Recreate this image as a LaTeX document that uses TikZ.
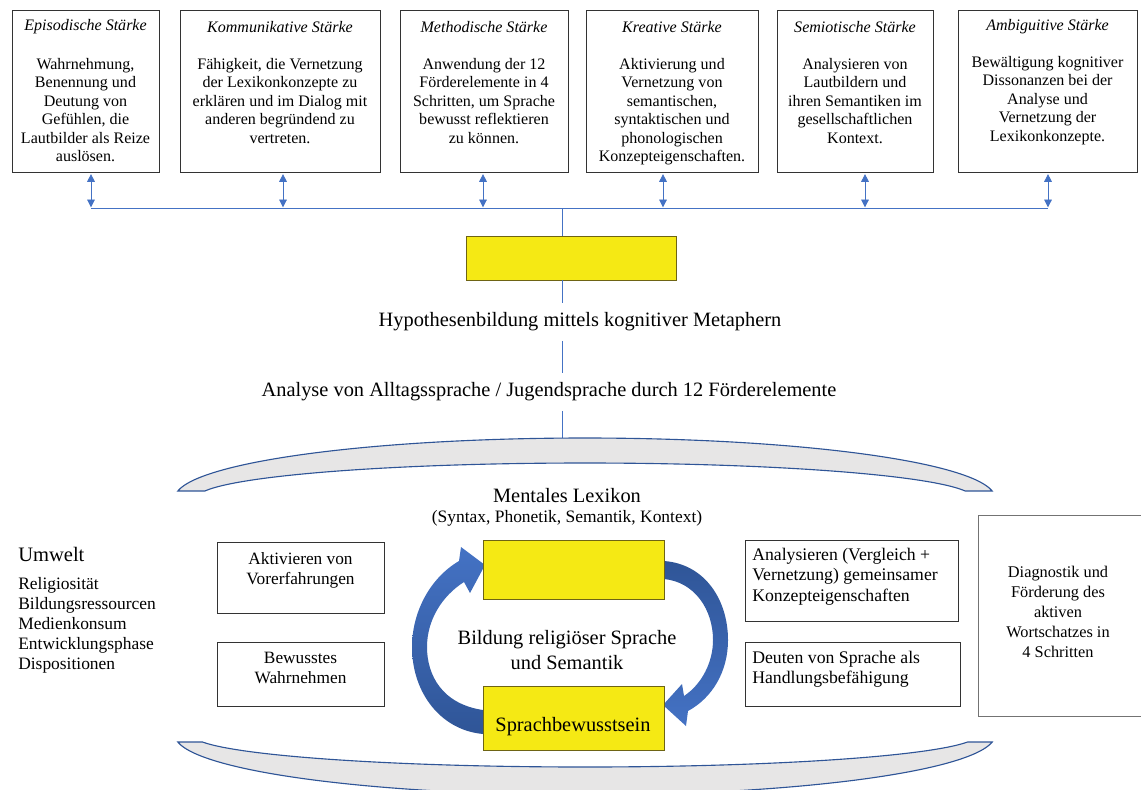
\documentclass[tikz,border=0pt]{standalone}
\usepackage{fontspec}
\setmainfont{Liberation Serif}
\usetikzlibrary{arrows.meta, fit, positioning}

\definecolor{linkblue}{RGB}{68,114,196}
\definecolor{darkblue}{RGB}{47,85,151}
\definecolor{bandgray}{RGB}{231,230,230}
\definecolor{boxyellow}{RGB}{245,233,20}
\definecolor{yellowline}{RGB}{110,100,20}

\begin{document}
\begin{tikzpicture}[x=0.025cm, y=-0.025cm,
    top box/.style={draw=black!80, line width=0.6pt, inner sep=0pt},
    top title/.style={font=\fontsize{11.4}{13.2}\selectfont\itshape, inner sep=0pt},
    top text/.style={font=\fontsize{11.4}{13.15}\selectfont, align=center, inner sep=0pt, anchor=north},
    mid box/.style={draw=black!80, line width=0.6pt, inner sep=0pt},
    mid text/.style={font=\fontsize{12.3}{14.2}\selectfont, inner sep=0pt, anchor=north},
    side text/.style={font=\fontsize{12.6}{14.5}\selectfont, inner sep=0pt, align=left, anchor=north west},
    yellow box/.style={draw=yellowline, line width=0.6pt, fill=boxyellow, inner sep=0pt},
    big text/.style={font=\fontsize{14.5}{17.8}\selectfont, inner sep=0pt},
    link/.style={draw=linkblue, line width=0.6pt},
    double arrow/.style={link, {Triangle[width=5.5pt,length=5.5pt]}-{Triangle[width=5.5pt,length=5.5pt]}, shorten <=1.2pt, shorten >=0.5pt},
    band/.style={draw=darkblue, line width=0.8pt, fill=bandgray}]
\useasboundingbox (0,0) rectangle (1141,789);
\clip (0,0) rectangle (1141,789);

% top row
\node[top box, fit={(12,10) (159,172)}] (episod) {};
\node[top box, fit={(180,10) (380,172)}] (kommun) {};
\node[top box, fit={(400,10) (568,172)}] (method) {};
\node[top box, fit={(586,10) (758,172)}] (kreativ) {};
\node[top box, fit={(777,10) (933,172)}] (semio) {};
\node[top box, fit={(958,10) (1137,172)}] (ambig) {};

\node[top title] (episod-t) at (episod.north |- 0,27) {Episodische Stärke};
\node[top title] (kommun-t) at (kommun.north |- 0,27) {Kommunikative Stärke};
\node[top title] (method-t) at (method.north |- 0,27) {Methodische Stärke};
\node[top title] (kreativ-t) at (kreativ.north |- 0,27) {Kreative Stärke};
\node[top title] (semio-t) at (semio.north |- 0,27) {Semiotische Stärke};
\node[top title] (ambig-t) at (ambig.north |- 0,27) {Ambiguitive Stärke};

\node[top text] (episod-b) at (episod.north |- 0,58) {Wahrnehmung,\\Benennung und\\Deutung von\\Gefühlen, die\\Lautbilder als Reize\\auslösen.};
\node[top text] (kommun-b) at (kommun.north |- 0,58) {Fähigkeit, die Vernetzung\\der Lexikonkonzepte zu\\erklären und im Dialog mit\\anderen begründend zu\\vertreten.};
\node[top text] (method-b) at (method.north |- 0,58) {Anwendung der 12\\Förderelemente in 4\\Schritten, um Sprache\\bewusst reflektieren\\zu können.};
\node[top text] (kreativ-b) at (kreativ.north |- 0,58) {Aktivierung und\\Vernetzung von\\semantischen,\\syntaktischen und\\phonologischen\\Konzepteigenschaften.};
\node[top text] (semio-b) at (semio.north |- 0,58) {Analysieren von\\Lautbildern und\\ihren Semantiken im\\gesellschaftlichen\\Kontext.};
\node[top text] (ambig-b) at (ambig.north |- 0,56) {Bewältigung kognitiver\\Dissonanzen bei der\\Analyse und\\Vernetzung der\\Lexikonkonzepte.};

% bus with double arrows
\coordinate (a1) at (91,208);
\coordinate (a2) at (283,208);
\coordinate (a3) at (483,208);
\coordinate (a4) at (663,208);
\coordinate (a5) at (865,208);
\coordinate (a6) at (1048,208);
\coordinate (stem) at (562,208);
\draw[link] (a1) -- (a6);
\draw[double arrow] (a1 |- episod.south) -- (a1);
\draw[double arrow] (a2 |- kommun.south) -- (a2);
\draw[double arrow] (a3 |- method.south) -- (a3);
\draw[double arrow] (a4 |- kreativ.south) -- (a4);
\draw[double arrow] (a5 |- semio.south) -- (a5);
\draw[double arrow] (a6 |- ambig.south) -- (a6);

% stem down to the lexicon
\node[yellow box, fit={(466,236) (676,280)}] (idee) {};
\node[big text, inner ysep=6.6pt] (hypo) at (580,322) {Hypothesenbildung mittels kognitiver Metaphern};
\node[big text, inner ysep=6.6pt] (analyse) at (549,392) {Analyse von Alltagssprache / Jugendsprache durch 12 Förderelemente};
\coordinate (archtop) at (562,438);
\draw[link] (stem) -- (stem |- idee.north);
\draw[link] (stem |- idee.south) -- (stem |- hypo.north);
\draw[link] (stem |- hypo.south) -- (stem |- analyse.north);
\draw[link] (stem |- analyse.south) -- (archtop);

% upper and lower bands
\draw[band] plot[domain=173.3:6.7, smooth, samples=60, variable=\t] ({585+410*cos(\t)},{498-60*sin(\t)})
    -- plot[domain=11.5:168.5, smooth, samples=60, variable=\t] ({585+388*cos(\t)},{498-35*sin(\t)}) -- cycle;
\draw[band] plot[domain=173.3:6.7, smooth, samples=60, variable=\t] ({585+410*cos(\t)},{735+60*sin(\t)})
    -- plot[domain=12.6:167.4, smooth, samples=60, variable=\t] ({585+392*cos(\t)},{735+32*sin(\t)}) -- cycle;

% mental lexicon
\node[big text] (lexikon) at (567,496) {Mentales Lexikon};
\node[font=\fontsize{12.4}{14}\selectfont, inner sep=0pt] (lexikon-sub) at (567,518) {(Syntax, Phonetik, Semantik, Kontext)};

% circular arrows
\shade[top color=linkblue, bottom color=darkblue]
    (483,710) .. controls (442,704) and (427,675) .. (427,647)
    .. controls (427,620) and (442,596) .. (464,582) -- (470,593) -- (485,565) -- (461,547) -- (459,561)
    .. controls (430,578) and (412,612) .. (412,647)
    .. controls (412,692) and (440,730) .. (483,734) -- cycle;
\shade[top color=darkblue, bottom color=linkblue]
    (664,561) .. controls (705,564) and (728,600) .. (728,640)
    .. controls (728,672) and (712,698) .. (688,711) -- (686,726) -- (663,705) -- (682,684) -- (684,696)
    .. controls (702,684) and (713,662) .. (713,640)
    .. controls (713,610) and (695,582) .. (664,579) -- cycle;

\node[yellow box, fit={(483,540) (664,599)}] (wortbox) {};
\node[yellow box, fit={(483,686) (664,750)}] (bewusst) {};
\node[big text] (bewusst-t) at (573,727) {Sprachbewusstsein};
\node[big text, align=center] (bildung) at (567,650) {Bildung religiöser Sprache\\und Semantik};

% side boxes
\node[mid box, fit={(217,542) (384,613)}] (aktiv) {};
\node[mid text, align=center] (aktiv-t) at (aktiv.north |- 0,552) {Aktivieren von\\Vorerfahrungen};
\node[mid box, fit={(217,642) (384,706)}] (wahrn) {};
\node[mid text, align=center] (wahrn-t) at (wahrn.north |- 0,652) {Bewusstes\\Wahrnehmen};
\node[mid box, fit={(745,540) (958,621)}] (analys) {};
\node[side text] (analys-t) at (752,548) {Analysieren (Vergleich +\\Vernetzung) gemeinsamer\\Konzepteigenschaften};
\node[mid box, fit={(745,642) (960,706)}] (deuten) {};
\node[side text] (deuten-t) at (752,651) {Deuten von Sprache als\\Handlungsbefähigung};

\node[draw=black!55, line width=0.6pt, inner sep=0pt, fit={(978,515) (1150,716)}] (diagn) {};
\node[font=\fontsize{11.6}{14.2}\selectfont, inner sep=0pt, align=center] (diagn-t) at (1058,612) {Diagnostik und\\Förderung des\\aktiven\\Wortschatzes in\\4 Schritten};

% environment
\node[anchor=west, font=\fontsize{14.6}{17}\selectfont, inner sep=0pt] (umwelt) at (18,554) {Umwelt};
\node[anchor=north west, font=\fontsize{12.4}{14.2}\selectfont, align=left, inner sep=0pt] (umwelt-l) at (18,577) {Religiosität\\Bildungsressourcen\\Medienkonsum\\Entwicklungsphase\\Dispositionen};
\end{tikzpicture}
\end{document}
